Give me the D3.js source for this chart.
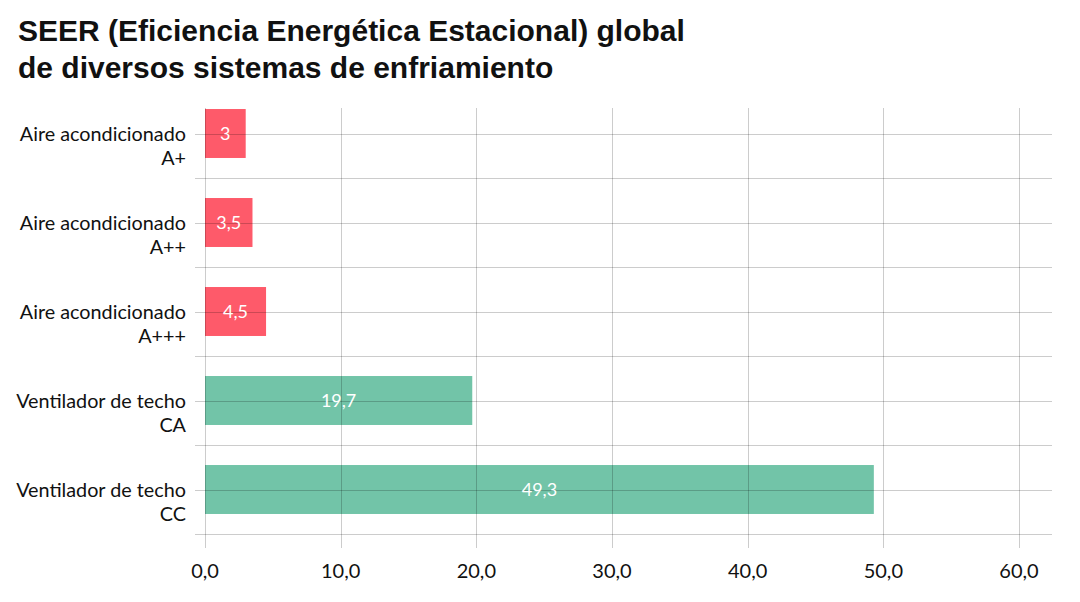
<!DOCTYPE html>
<html>
<head>
<meta charset="utf-8">
<script src="https://cdn.jsdelivr.net/npm/d3@7"></script>
<style>
  body { margin: 0; background: #fff; }
  svg { display: block; }
</style>
</head>
<body>
<div id="viz"></div>
<script>
// data
var categories = [
    ["Aire acondicionado", "A+"],
    ["Aire acondicionado", "A++"],
    ["Aire acondicionado", "A+++"],
    ["Ventilador de techo", "CA"],
    ["Ventilador de techo", "CC"]
];
var values = [3, 3.5, 4.5, 19.7, 49.3];
var groups = ["aire", "aire", "aire", "vent", "vent"];
var xTicks = [0, 10, 20, 30, 40, 50, 60];
var titleLines = ["SEER (Eficiencia Energética Estacional) global", "de diversos sistemas de enfriamiento"];

var width = 1080, height = 602;
var plotLeft = 205, plotTop = 89, bandH = 89;

var svg = d3.select("#viz")
        .append("svg")
        .attr("width", width)
        .attr("height", height);

var x = d3.scaleLinear().domain([0, 60]).range([plotLeft, 1019]);
var y = d3.scaleBand()
        .domain(d3.range(categories.length))
        .range([plotTop, plotTop + bandH * categories.length])
        .paddingInner(0.45)
        .paddingOuter(0.225);
var color = d3.scaleOrdinal().domain(["aire", "vent"]).range(["#fe5a6a", "#72c4a8"]);
var comma = function(v, digits) { return d3.format("." + digits + "f")(v).replace(".", ","); };

// title
svg.append("g").selectAll("text")
    .data(titleLines)
    .enter()
    .append("text")
    .attr("x", 18)
    .attr("y", function(d, i) { return 41 + i * 37; })
    .style("font-family", "'Liberation Sans', Arial, sans-serif")
    .style("font-weight", "bold")
    .style("font-size", "30px")
    .style("fill", "#111")
    .text(function(d) { return d; });

// bars
svg.append("g").selectAll("rect")
    .data(values)
    .enter()
    .append("rect")
    .attr("x", x(0))
    .attr("y", function(d, i) { return y(i); })
    .attr("width", function(d) { return x(d) - x(0); })
    .attr("height", y.bandwidth())
    .style("fill", function(d, i) { return color(groups[i]); });

// grid, drawn over the bars
var grid = svg.append("g")
    .style("stroke", "rgba(0,0,0,0.2)")
    .style("stroke-width", 1);

var hLines = [];
categories.forEach(function(c, i) {
    hLines.push(plotTop + bandH * i + bandH / 2);
    hLines.push(plotTop + bandH * (i + 1));
});
grid.selectAll("line.h")
    .data(hLines)
    .enter()
    .append("line")
    .attr("class", "h")
    .attr("x1", 195)
    .attr("x2", 1052)
    .attr("y1", function(d) { return Math.round(d) + 0.5; })
    .attr("y2", function(d) { return Math.round(d) + 0.5; });

grid.selectAll("line.v")
    .data(xTicks)
    .enter()
    .append("line")
    .attr("class", "v")
    .attr("x1", function(d) { return Math.round(x(d)) + 0.5; })
    .attr("x2", function(d) { return Math.round(x(d)) + 0.5; })
    .attr("y1", 108)
    .attr("y2", 548);

// x tick labels
svg.append("g").selectAll("text")
    .data(xTicks)
    .enter()
    .append("text")
    .attr("x", function(d) { return x(d); })
    .attr("y", 578)
    .attr("text-anchor", "middle")
    .style("font-family", "Lato, sans-serif")
    .style("font-size", "20px")
    .style("fill", "#111")
    .text(function(d) { return comma(d, 1); });

// category labels
var labels = svg.append("g").selectAll("text")
    .data(categories)
    .enter()
    .append("text")
    .attr("text-anchor", "end")
    .style("font-family", "Lato, sans-serif")
    .style("font-size", "19.8px")
    .style("fill", "#111");
labels.selectAll("tspan")
    .data(function(d, i) { return d.map(function(s, j) { return { s: s, i: i, j: j }; }); })
    .enter()
    .append("tspan")
    .attr("x", 186)
    .attr("y", function(d) { return y(d.i) + y.bandwidth() / 2 + 7 + d.j * 24; })
    .text(function(d) { return d.s; });

// value labels
svg.append("g").selectAll("text")
    .data(values)
    .enter()
    .append("text")
    .attr("x", function(d) { return (x(0) + x(d)) / 2; })
    .attr("y", function(d, i) { return y(i) + y.bandwidth() / 2 + 6; })
    .attr("text-anchor", "middle")
    .style("font-family", "Lato, sans-serif")
    .style("font-size", "18px")
    .style("fill", "#fff")
    .text(function(d) { return Number.isInteger(d) ? String(d) : comma(d, 1); });
</script>
</body>
</html>
